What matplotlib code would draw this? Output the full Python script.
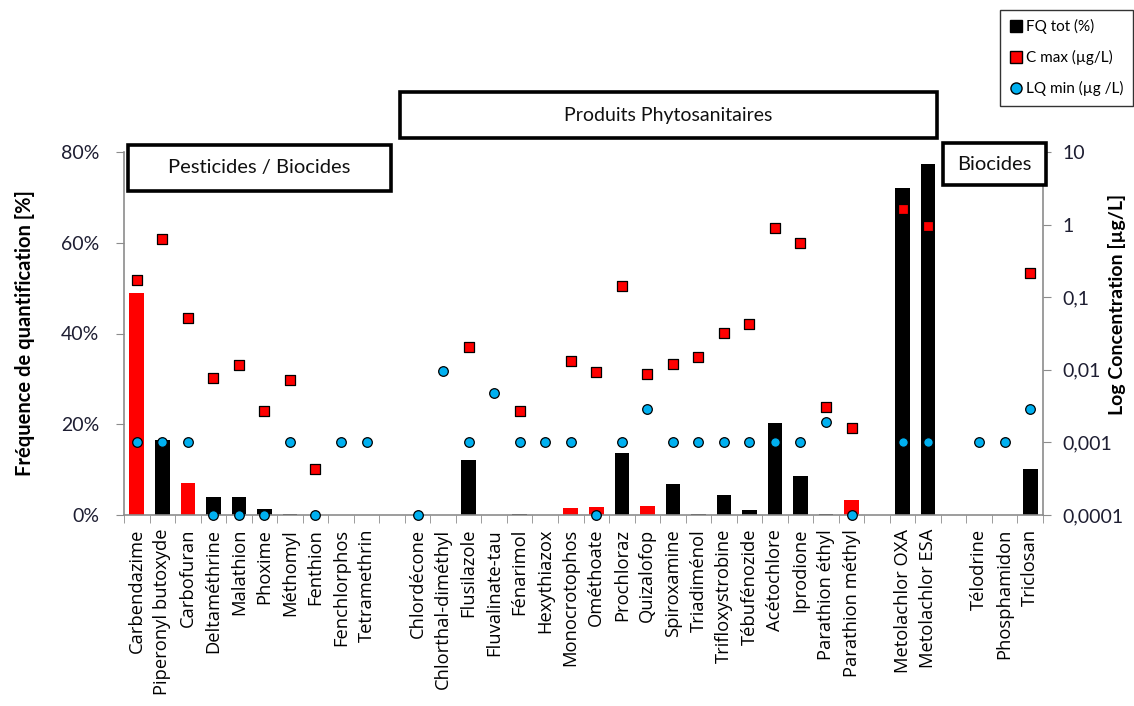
import matplotlib

matplotlib.use("Agg")

import matplotlib.pyplot as plt
import numpy as np
from matplotlib.lines import Line2D
from matplotlib.patches import Rectangle
from matplotlib.ticker import FixedLocator, FuncFormatter, NullLocator

# Substances, par groupe, dans l'ordre de l'axe
pesticides_biocides = [
    "Carbendazime", "Piperonyl butoxyde", "Carbofuran", "Deltaméthrine",
    "Malathion", "Phoxime", "Méthomyl", "Fenthion", "Fenchlorphos",
    "Tetramethrin",
]
phytosanitaires = [
    "Chlordécone", "Chlorthal-diméthyl", "Flusilazole", "Fluvalinate-tau",
    "Fénarimol", "Hexythiazox", "Monocrotophos", "Ométhoate", "Prochloraz",
    "Quizalofop", "Spiroxamine", "Triadiménol", "Trifloxystrobine",
    "Tébufénozide", "Acétochlore", "Iprodione", "Parathion éthyl",
    "Parathion méthyl",
]
metolachlor = ["Metolachlor OXA", "Metolachlor ESA"]
biocides = ["Télodrine", "Phosphamidon", "Triclosan"]

# FQ tot (%)
fq_tot = [
    49.0, 16.5, 7.0, 4.0, 4.0, 1.3, 0.3, 0.0, 0.0, 0.0,
    0.0, 0.0, 12.1, 0.0, 0.3, 0.0, 1.5, 1.8, 13.7, 2.0, 6.8, 0.3, 4.3,
    1.2, 20.3, 8.7, 0.2, 3.3,
    72.0, 77.4,
    0.0, 0.0, 10.1,
]

# C max (µg/L)
c_max = [
    0.17, 0.63, 0.051, 0.0076, 0.0116, 0.0027, 0.0072, 0.00043, np.nan, np.nan,
    np.nan, np.nan, 0.0204, np.nan, 0.0027, np.nan, 0.0132, 0.0092, 0.143,
    0.0088, 0.0119, 0.0152, 0.0324, 0.0423, 0.89, 0.55, 0.0031, 0.0016,
    1.66, 0.97,
    np.nan, np.nan, 0.215,
]

# LQ min (µg/L)
lq_min = [
    0.001, 0.001, 0.001, 0.0001, 0.0001, 0.0001, 0.001, 0.0001, 0.001, 0.001,
    0.0001, 0.0097, 0.001, 0.0048, 0.001, 0.001, 0.001, 0.0001, 0.001,
    0.0029, 0.001, 0.001, 0.001, 0.001, 0.001, 0.001, 0.0019, 0.0001,
    0.001, 0.001,
    0.001, 0.001, 0.0029,
]

# Barres affichées en rouge
red_bars = [
    "Carbendazime", "Carbofuran", "Monocrotophos", "Ométhoate",
    "Quizalofop", "Parathion méthyl",
]

left_ticks = [0, 20, 40, 60, 80]
right_ticks = [0.0001, 0.001, 0.01, 0.1, 1, 10]

WIDTH, HEIGHT = 1134, 706
TEXT_FONT = ["Lato", "DejaVu Sans"]
LABEL_FONT = ["Open Sans", "DejaVu Sans"]
BLUE = "#00B0F0"
RED = "#FF0000"
AXIS_GRAY = "#8C8C8C"
TICK_COLOR = "#1E1E32"


def fig_x(px):
    return px / WIDTH


def fig_y(py):
    return 1 - py / HEIGHT


def draw_box(fig, x0, y0, x1, y1, text, fontsize):
    """Cadre noir avec texte centré (coordonnées en pixels)."""

    fig.patches.append(
        Rectangle(
            (fig_x(x0), fig_y(y1)),
            fig_x(x1) - fig_x(x0),
            fig_y(y0) - fig_y(y1),
            transform=fig.transFigure,
            facecolor="white",
            edgecolor="black",
            linewidth=2.6,
            zorder=5,
        )
    )
    fig.text(
        fig_x((x0 + x1) / 2),
        fig_y((y0 + y1) / 2),
        text,
        ha="center",
        va="center",
        fontsize=fontsize,
        family=TEXT_FONT,
        color="#111111",
        zorder=6,
    )


# positions avec un emplacement vide entre les groupes
names = []
positions = []
slot = 0
for group in [pesticides_biocides, phytosanitaires, metolachlor, biocides]:
    for name in group:
        names.append(name)
        positions.append(slot)
        slot += 1
    slot += 1
n_slots = slot - 1
positions = np.array(positions)

bar_colors = [RED if name in red_bars else "black" for name in names]

fig = plt.figure(figsize=(WIDTH / 100, HEIGHT / 100), dpi=100)
ax = fig.add_axes([
    fig_x(124),
    fig_y(515),
    fig_x(1043) - fig_x(124),
    fig_y(152) - fig_y(515),
])

ax.bar(
    positions,
    fq_tot,
    width=0.57,
    color=bar_colors,
    zorder=2,
)

ax.set_xlim(-0.5, n_slots - 0.5)
ax.set_ylim(0, 80)

ax.yaxis.set_major_locator(FixedLocator(left_ticks))
ax.yaxis.set_major_formatter(FuncFormatter(lambda v, _: f"{v:.0f}%"))

ax.set_xticks(positions)
ax.set_xticklabels(names, rotation=90, family=LABEL_FONT, fontsize=13.2)
ax.tick_params(axis="x", length=0, pad=10)
ax.xaxis.set_minor_locator(FixedLocator(np.arange(-0.5, n_slots, 1.0)))
ax.tick_params(
    axis="x",
    which="minor",
    length=6,
    direction="out",
    color=AXIS_GRAY,
)
ax.tick_params(
    axis="y",
    length=6,
    color=AXIS_GRAY,
    labelsize=14,
    labelcolor=TICK_COLOR,
    pad=12,
)
for label in ax.get_yticklabels():
    label.set_family(TEXT_FONT)

for side in ["top", "right"]:
    ax.spines[side].set_visible(False)
for side in ["left", "bottom"]:
    ax.spines[side].set_color(AXIS_GRAY)
    ax.spines[side].set_linewidth(1.2)

ax.set_ylabel(
    "Fréquence de quantification [%]",
    family=TEXT_FONT,
    fontsize=14.5,
    fontweight="bold",
)
ax.yaxis.set_label_coords(-0.097, 0.5)

# axe secondaire logarithmique
ax2 = ax.twinx()
ax2.set_yscale("log")
ax2.set_ylim(0.0001, 10)
ax2.yaxis.set_major_locator(FixedLocator(right_ticks))
ax2.yaxis.set_minor_locator(NullLocator())
ax2.yaxis.set_major_formatter(
    FuncFormatter(lambda v, _: f"{v:g}".replace(".", ",") if v >= 0.001 else "0,0001")
)
ax2.tick_params(
    axis="y",
    length=6,
    color=AXIS_GRAY,
    labelsize=14,
    labelcolor=TICK_COLOR,
    pad=8,
)
for label in ax2.get_yticklabels():
    label.set_family(TEXT_FONT)

for side in ["top", "left", "bottom"]:
    ax2.spines[side].set_visible(False)
ax2.spines["right"].set_color(AXIS_GRAY)
ax2.spines["right"].set_linewidth(1.2)

ax2.scatter(
    positions,
    c_max,
    marker="s",
    s=48,
    color=RED,
    edgecolors="black",
    linewidths=0.9,
    zorder=4,
    clip_on=False,
)
ax2.scatter(
    positions,
    lq_min,
    marker="o",
    s=48,
    color=BLUE,
    edgecolors="black",
    linewidths=0.9,
    zorder=4,
    clip_on=False,
)

ax2.set_ylabel(
    "Log Concentration [µg/L]",
    family=TEXT_FONT,
    fontsize=14,
    fontweight="bold",
    rotation=90,
)
ax2.yaxis.set_label_coords(1.071, 0.58)

# cadres de groupes
draw_box(fig, 400, 92, 937, 138, "Produits Phytosanitaires", 14)
draw_box(fig, 128, 145, 391, 191, "Pesticides / Biocides", 14.5)
draw_box(fig, 943, 143, 1046, 185, "Biocides", 14.5)

# légende
handles = [
    Line2D([], [], linestyle="none", marker="s", markersize=8,
           markerfacecolor="black", markeredgecolor="black"),
    Line2D([], [], linestyle="none", marker="s", markersize=8,
           markerfacecolor=RED, markeredgecolor="black"),
    Line2D([], [], linestyle="none", marker="o", markersize=8,
           markerfacecolor=BLUE, markeredgecolor="black"),
]
legend = fig.legend(
    handles,
    ["FQ tot (%)", "C max (µg/L)", "LQ min (µg /L)"],
    loc="upper right",
    bbox_to_anchor=(fig_x(1133), fig_y(10)),
    frameon=True,
    fancybox=False,
    edgecolor="black",
    prop={"family": TEXT_FONT, "size": 11},
    handlelength=0.8,
    handletextpad=0.3,
    labelspacing=1.05,
    borderpad=0.6,
    borderaxespad=0,
)
legend.get_frame().set_linewidth(1.0)

fig.savefig("out.png", dpi=100, facecolor="white")
